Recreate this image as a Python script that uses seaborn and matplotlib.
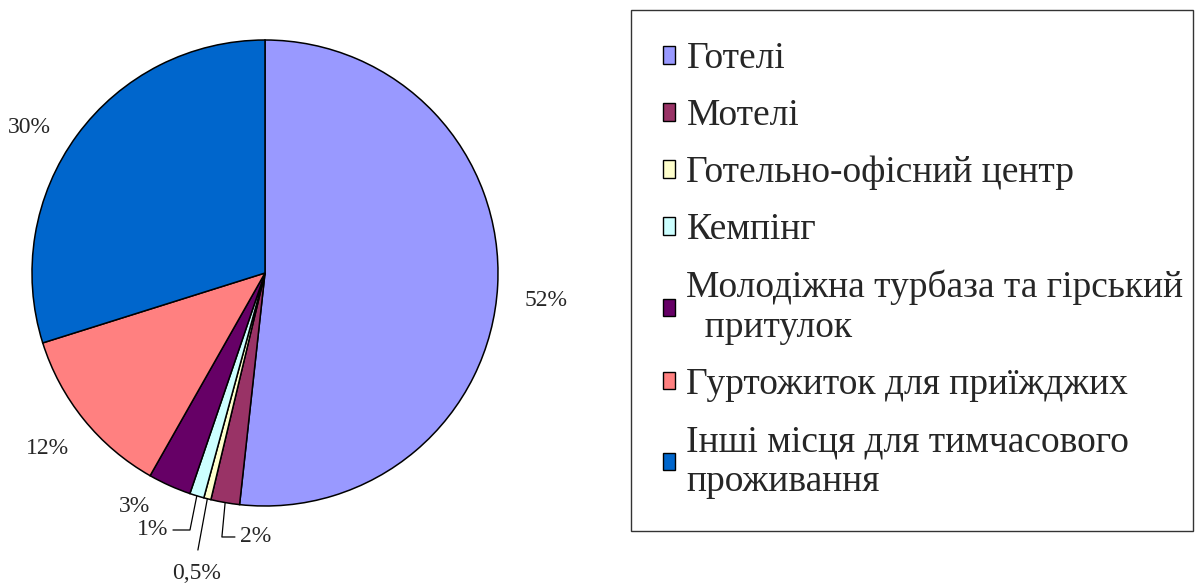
import numpy as np
import matplotlib
matplotlib.use("Agg")
import matplotlib.pyplot as plt
import seaborn as sns

# дані
categories = [
    "Готелі",
    "Мотелі",
    "Готельно-офісний центр",
    "Кемпінг",
    "Молодіжна турбаза та гірський\n  притулок",
    "Гуртожиток для приїжджих",
    "Інші місця для тимчасового\nпроживання",
]
shares = [52, 2, 0.5, 1, 3, 12, 30]
share_labels = ["52%", "2%", "0,5%", "1%", "3%", "12%", "30%"]
colors = ["#9999FF", "#993366", "#FFFFCC", "#CCFFFF", "#660066", "#FF8080", "#0066CC"]

sns.set_theme(style="white")
plt.rcParams["font.family"] = ["Liberation Serif", "DejaVu Serif"]

fig = plt.figure(figsize=(11.95, 5.83), dpi=100)
ax = fig.add_axes([32 / 1195, 77 / 583, 466 / 1195, 466 / 583])

palette = sns.color_palette(colors)
wedges, _ = ax.pie(shares, colors=palette, startangle=90, counterclock=False,
                   wedgeprops=dict(edgecolor="black", linewidth=1.1))
ax.set_xlim(-1, 1)
ax.set_ylim(-1, 1)
ax.set_aspect("equal")
ax.axis("off")


def mid_point(w, r=1.0, shift=0.0):
    a = np.deg2rad((w.theta1 + w.theta2) / 2 + shift)
    return r * np.cos(a), r * np.sin(a)


fs = 17
# великі сегменти - підпис на відстані
for i, dist, shift in [(0, 1.21, -2.5), (5, 1.2, 0), (6, 1.19, 4.5), (4, 1.15, -5)]:
    x, y = mid_point(wedges[i], dist, shift)
    ax.text(x, y, share_labels[i], ha="center", va="center", fontsize=fs)

# малі сегменти з виносками
lw = 0.9
# 2%
x0, y0 = mid_point(wedges[1])
ax.plot([x0, -0.185, -0.129], [y0, -1.133, -1.133], color="black", lw=lw, clip_on=False)
ax.text(-0.107, -1.133, share_labels[1], ha="left", va="center", fontsize=fs)
# 1%
x0, y0 = mid_point(wedges[3])
ax.plot([x0, -0.322, -0.395], [y0, -1.103, -1.103], color="black", lw=lw, clip_on=False)
ax.text(-0.416, -1.103, share_labels[3], ha="right", va="center", fontsize=fs)
# 0,5%
x0, y0 = mid_point(wedges[2])
ax.plot([x0, -0.288], [y0, -1.189], color="black", lw=lw, clip_on=False)
ax.text(-0.292, -1.288, share_labels[2], ha="center", va="center", fontsize=fs)

leg = fig.legend(wedges, categories, loc="upper left",
                 bbox_to_anchor=(631 / 1195, 53 / 583, 562 / 1195, 520 / 583),
                 mode="expand",
                 fontsize=27, frameon=True, fancybox=False,
                 handlelength=0.33, handleheight=0.33, handletextpad=0.3,
                 labelspacing=0.6, borderpad=0.85, borderaxespad=0)
leg.get_frame().set_edgecolor("black")
leg.get_frame().set_linewidth(1.0)
for h in leg.legend_handles:
    h.set_edgecolor("black")
    h.set_linewidth(1.0)

fig.savefig("out.png", dpi=100)
